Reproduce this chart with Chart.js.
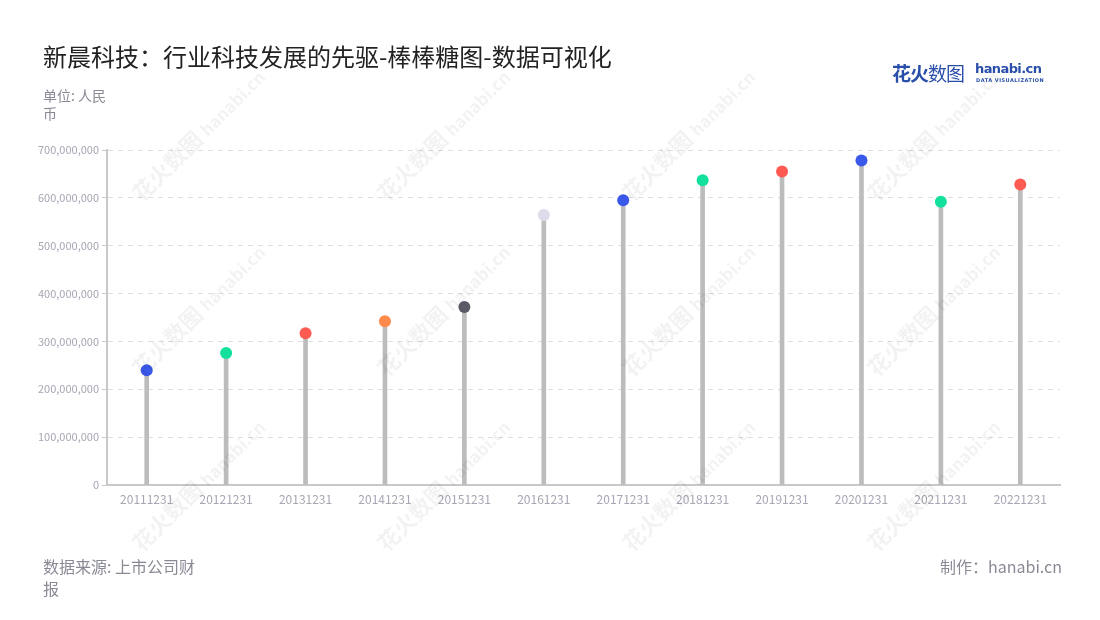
<!DOCTYPE html>
<html>
<head>
<meta charset="utf-8">
<script src="https://cdn.jsdelivr.net/npm/chart.js@4"></script>
<style>
  body { margin: 0; background: #fff; font-family: "Noto Sans CJK SC", "Noto Sans", sans-serif; }
  #wrap { position: relative; width: 1100px; height: 620px; overflow: hidden; }
  #chart { position: absolute; left: 0; top: 0; }
  .txt { position: absolute; white-space: nowrap; }
  .mark { position: absolute; color: rgba(0,0,0,0.05); font-size: 22px; font-weight: 700;
          transform: rotate(-45deg); transform-origin: left center; white-space: nowrap; }
  .mark small { font-size: 17px; }
</style>
</head>
<body>
<div id="wrap">
  <canvas id="chart" width="1100" height="620"></canvas>
  <div class="txt" style="left:43px;top:38px;font-size:24px;color:#222;">新晨科技：行业科技发展的先驱-棒棒糖图-数据可视化</div>
  <div class="txt" style="left:43px;top:86px;font-size:14px;color:#8a8a96;line-height:18px;white-space:normal;width:70px;">单位: 人民币</div>
  <div class="txt" style="left:43px;top:555px;font-size:16px;color:#8a8a96;line-height:22px;white-space:normal;width:160px;">数据来源: 上市公司财报</div>
  <div class="txt" style="right:38px;top:555px;font-size:16px;color:#8a8a96;line-height:22px;">制作：hanabi.cn</div>
  <div class="txt" style="left:892px;top:59px;font-size:19px;color:#2a4faa;letter-spacing:-1px;"><b>花火</b>数图</div>
  <div class="txt" style="left:975px;top:61px;font-size:13px;font-weight:700;color:#2a4faa;letter-spacing:-0.6px;font-family:'DejaVu Sans';">hanabi.cn</div>
  <div class="txt" style="left:976px;top:77px;font-size:5px;font-weight:700;color:#2a4faa;letter-spacing:0.5px;font-family:'DejaVu Sans';">DATA VISUALIZATION</div>
</div>
<script>
const categories = ['20111231', '20121231', '20131231', '20141231', '20151231', '20161231',
                    '20171231', '20181231', '20191231', '20201231', '20211231', '20221231'];
const values = [240000000, 276000000, 317000000, 342000000, 372000000, 564000000,
                595000000, 637000000, 655000000, 678000000, 592000000, 628000000];
const dotColors = ['#3a59ea', '#14e09e', '#ff5b52', '#ff8a4b', '#5a5a66', '#dcdcea',
                   '#3a59ea', '#14e09e', '#ff5b52', '#3a59ea', '#14e09e', '#ff5b52'];
const yTicks = [0, 100000000, 200000000, 300000000, 400000000, 500000000, 600000000, 700000000];

// watermark tiles
const wrap = document.getElementById('wrap');
[140, 315, 490].forEach((y) => {
  [135, 380, 625, 870].forEach((x) => {
    const d = document.createElement('div');
    d.className = 'mark';
    d.style.left = x + 'px';
    d.style.top = (y + 40) + 'px';
    d.innerHTML = '花火数图 <small>hanabi.cn</small>';
    wrap.appendChild(d);
  });
});

const tickColor = '#a6a6b4';
const fontFamily = '"Noto Sans CJK SC", "Noto Sans", sans-serif';

new Chart(document.getElementById('chart'), {
  type: 'bar',
  data: {
    labels: categories,
    datasets: [
      {
        type: 'line',
        data: values,
        showLine: false,
        pointRadius: 6,
        pointHoverRadius: 6,
        pointBorderWidth: 0,
        pointBackgroundColor: dotColors,
        order: 0
      },
      {
        data: values,
        backgroundColor: '#bcbcbc',
        barThickness: 4,
        order: 1
      }
    ]
  },
  options: {
    responsive: false,
    animation: false,
    layout: { padding: { left: 0, right: 40, top: 150, bottom: 105 } },
    plugins: { legend: { display: false }, tooltip: { enabled: false } },
    scales: {
      x: {
        grid: { display: false, drawTicks: true, tickLength: 5 },
        border: { color: '#c8c8c8', width: 2 },
        ticks: { color: tickColor, font: { family: fontFamily, size: 12 }, padding: 2, maxRotation: 0 },
        afterFit: (scale) => { scale.height = 30; }
      },
      y: {
        min: 0,
        max: 700000000,
        afterBuildTicks: (scale) => { scale.ticks = yTicks.map((v) => ({ value: v })); },
        grid: { color: '#dedede', drawTicks: true, tickLength: 5, tickColor: '#c8c8c8', tickBorderDash: [] },
        border: { color: '#c8c8c8', width: 2, dash: [5, 5] },
        ticks: {
          color: tickColor, font: { family: fontFamily, size: 11 }, padding: 3,
          callback: (v) => v.toLocaleString('en-US')
        },
        afterFit: (scale) => { scale.width = 107; }
      }
    }
  }
});
</script>
</body>
</html>
